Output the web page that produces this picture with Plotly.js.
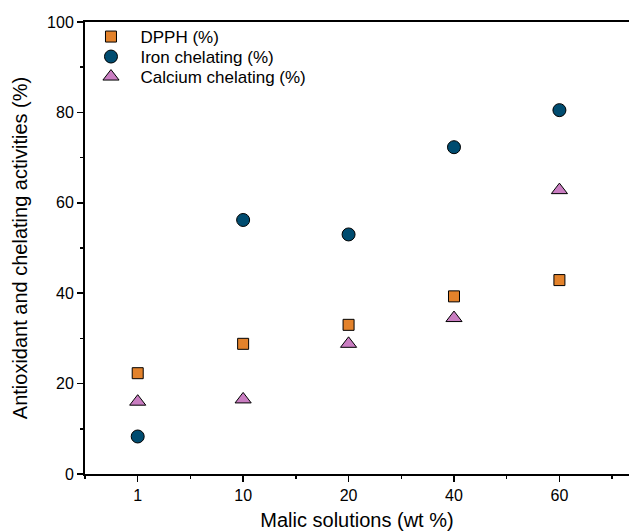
<!DOCTYPE html>
<html><head><meta charset="utf-8">
<script src="https://cdn.plot.ly/plotly-3.0.1.min.js"></script>
<style>html,body{margin:0;padding:0;background:#fff}</style>
</head><body>
<div id="chart" style="width:629px;height:532px"></div>
<script>
const categories = ["1", "10", "20", "40", "60"];
const seriesNames = ["DPPH (%)", "Iron chelating (%)", "Calcium chelating (%)"];
const dpph = [22.3, 28.8, 33.0, 39.3, 42.9];
const iron = [8.3, 56.2, 53.0, 72.3, 80.5];
const calcium = [16.0, 16.5, 28.8, 34.5, 62.8];

const xpos = categories.map((c, i) => i);
const font = "Liberation Sans, Arial, sans-serif";
const pad = "\u00a0\u00a0";

const traces = [
  {x: xpos, y: dpph, name: pad + seriesNames[0], mode: "markers", type: "scatter", legend: "legend",
   marker: {symbol: "square", size: 11, color: "#E3822B", line: {color: "#000", width: 1}}},
  {x: xpos, y: iron, name: pad + seriesNames[1], mode: "markers", type: "scatter", legend: "legend2",
   marker: {symbol: "circle", size: 13, color: "#004C70", line: {color: "#000", width: 1}}},
  {x: xpos, y: calcium, name: pad + seriesNames[2], mode: "markers", type: "scatter", legend: "legend3",
   marker: {symbol: "triangle-up", size: 14, color: "#C97DC1", line: {color: "#000", width: 1}}}
];

function leg(yc) {
  return {x: 0.011, y: yc, xanchor: "left", yanchor: "middle", bgcolor: "rgba(0,0,0,0)",
          font: {family: font, size: 17}, itemsizing: "trace"};
}

const layout = {
  width: 629, height: 532,
  margin: {l: 85, r: 0, t: 22, b: 58},
  paper_bgcolor: "#fff", plot_bgcolor: "#fff",
  font: {family: font, color: "#000", size: 16},
  showlegend: true,
  legend: leg(0.9668),
  legend2: leg(0.9226),
  legend3: leg(0.8783),
  xaxis: {
    range: [-0.5, 4.66], tickmode: "array", tickvals: xpos, ticktext: categories,
    showgrid: false, zeroline: false, showline: true, linecolor: "#000", linewidth: 2,
    mirror: true, ticks: "outside", ticklen: 6, tickwidth: 1.5, tickcolor: "#000",
    tickfont: {family: font, size: 16},
    minor: {dtick: 1, tick0: 0.5, ticks: "outside", ticklen: 3, tickwidth: 1.5, tickcolor: "#000", showgrid: false},
    title: {text: "Malic solutions (wt %)", font: {family: font, size: 20}, standoff: 10}
  },
  yaxis: {
    range: [0, 100], tickmode: "linear", tick0: 0, dtick: 20,
    showgrid: false, zeroline: false, showline: true, linecolor: "#000", linewidth: 2,
    mirror: false, ticks: "outside", ticklen: 6, tickwidth: 1.5, tickcolor: "#000",
    tickfont: {family: font, size: 16},
    minor: {dtick: 10, ticks: "outside", ticklen: 3, tickwidth: 1.5, tickcolor: "#000", showgrid: false},
    title: {text: "Antioxidant and chelating activities (%)", font: {family: font, size: 20}, standoff: 14}
  }
};

Plotly.newPlot("chart", traces, layout, {displayModeBar: false, staticPlot: true});
</script>
</body></html>
